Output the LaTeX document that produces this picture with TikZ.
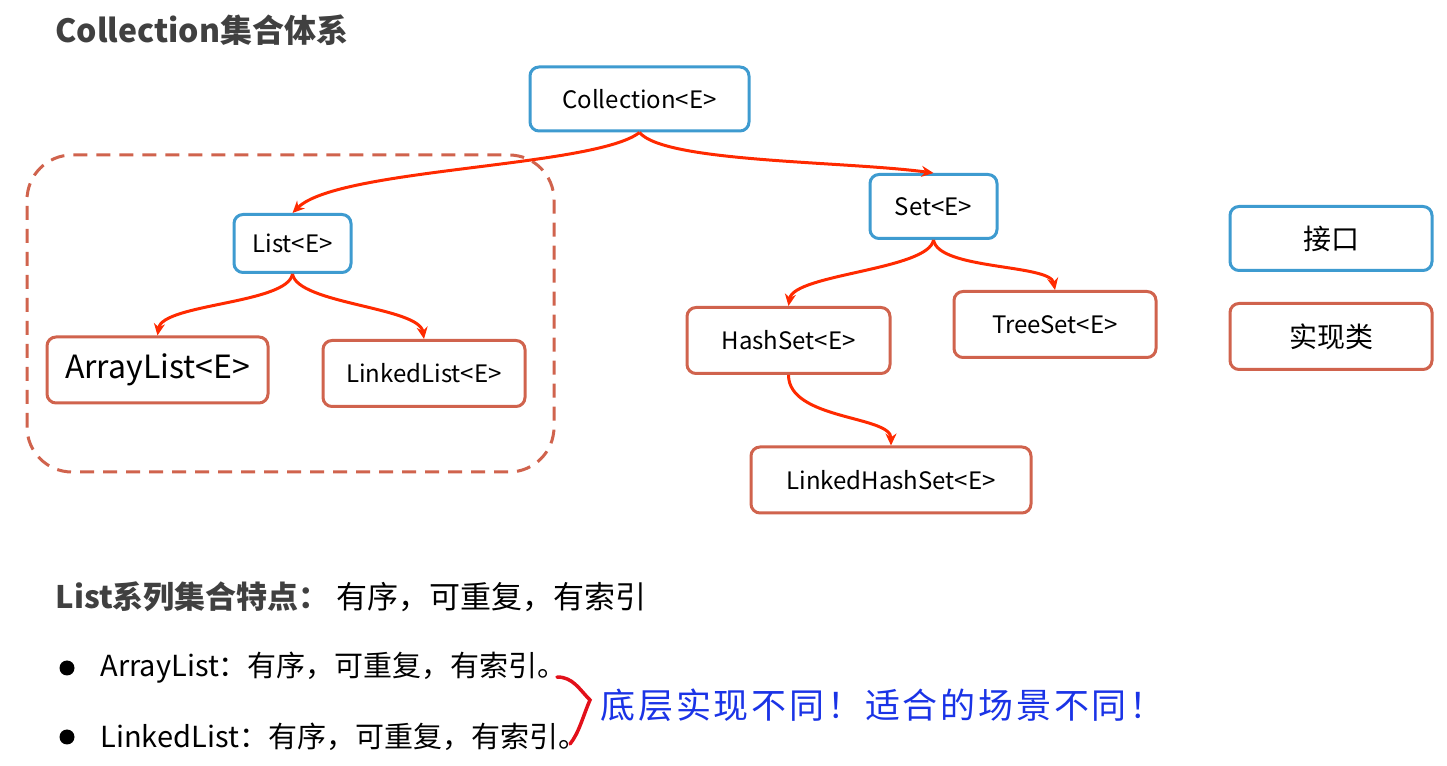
\documentclass[tikz,border=0pt]{standalone}
\usepackage{fontspec}
\setmainfont{Noto Sans CJK SC}
\newfontfamily\penfont{Noto Sans CJK SC}[LetterSpace=8]
\usetikzlibrary{arrows.meta}

\definecolor{ifaceblue}{HTML}{3E9BD0}
\definecolor{implred}{HTML}{D0634D}
\definecolor{arrowred}{HTML}{FF2A00}
\definecolor{titlegray}{HTML}{404040}
\definecolor{penblue}{HTML}{1A33E6}
\definecolor{penred}{HTML}{E2101A}

\begin{document}
\begin{tikzpicture}[x=1pt,y=1pt,>={Stealth[length=12pt,width=11pt]},iface/.style={draw=ifaceblue,line width=3pt,rounded corners=9pt,fill=white,minimum width=#1,minimum height=64pt,font=\fontsize{24}{28}\selectfont},impl/.style={draw=implred,line width=3pt,rounded corners=9pt,fill=white,minimum width=#1,minimum height=66pt,font=\fontsize{24}{28}\selectfont},link/.style={arrowred,line width=3pt,->}]
\useasboundingbox (0,0) rectangle (1447,765);
\node[anchor=west,text=titlegray,font=\fontsize{32}{36}\selectfont\bfseries] (title) at (52,735) {Collection集合体系};
% the List family
\draw[implred,line width=3pt,dash pattern=on 14pt off 9pt,rounded corners=45pt] (27,293) rectangle (554,610);
\node[iface=219pt] (coll) at (639.5,666) {Collection<E>};
\node[iface=117pt,minimum height=58pt] (list) at (292.5,521.5) {List<E>};
\node[iface=127pt] (set) at (933.5,558.5) {Set<E>};
\node[impl=221pt,font=\fontsize{32}{36}\selectfont] (alist) at (157.5,395) {ArrayList<E>};
\node[impl=202pt] (llist) at (424,391.5) {LinkedList<E>};
\node[impl=203pt] (hset) at (788.5,424.5) {HashSet<E>};
\node[impl=202pt] (tset) at (1055,440.5) {TreeSet<E>};
\node[impl=280pt] (lhset) at (891,285) {LinkedHashSet<E>};
% legend
\node[iface=202pt,font=\fontsize{28}{32}\selectfont] (key1) at (1331,526.5) {接口};
\node[impl=202pt,font=\fontsize{28}{32}\selectfont] (key2) at (1331,428.5) {实现类};
\draw[link] (coll.south) .. controls +(-45,-35) and +(45,45) .. (list.north);
\draw[link] (coll.south) .. controls +(25,-30) and +(-90,12) .. (set.north);
\draw[link] (list.south) .. controls +(-5,-30) and +(5,32) .. (alist.north);
\draw[link] (list.south) .. controls +(5,-30) and +(-5,32) .. (llist.north);
\draw[link] (set.south) .. controls +(-5,-30) and +(5,32) .. (hset.north);
\draw[link] (set.south) .. controls +(5,-30) and +(-5,26) .. (tset.north);
\draw[link] (hset.south) .. controls +(0,-45) and +(0,30) .. (lhset.north);
% List notes
\node[anchor=west,text=titlegray,font=\fontsize{31}{34}\selectfont\bfseries] (feat) at (52,168) {List系列集合特点：};
\node[anchor=west,font=\fontsize{31}{34}\selectfont] (featval) at (feat.east) {有序，可重复，有索引};
\node[circle,fill=black,minimum size=15pt,inner sep=0pt] (dot1) at (67,97) {};
\node[circle,fill=black,minimum size=15pt,inner sep=0pt] (dot2) at (67,28) {};
\node[anchor=west,font=\fontsize{29}{32}\selectfont] (arr) at (97,97) {ArrayList：有序，可重复，有索引。};
\node[anchor=west,font=\fontsize{29}{32}\selectfont] (lnk) at (97,28) {LinkedList：有序，可重复，有索引。};
\draw[penred,line width=3.5pt,line cap=round] (557,88) .. controls (573,88) and (579,76) .. (590,65) .. controls (583,49) and (579,32) .. (570,21);
\node[anchor=west,text=penblue,font=\fontsize{35}{38}\penfont] (note) at (597,60) {底层实现不同！适合的场景不同！};
\end{tikzpicture}
\end{document}
